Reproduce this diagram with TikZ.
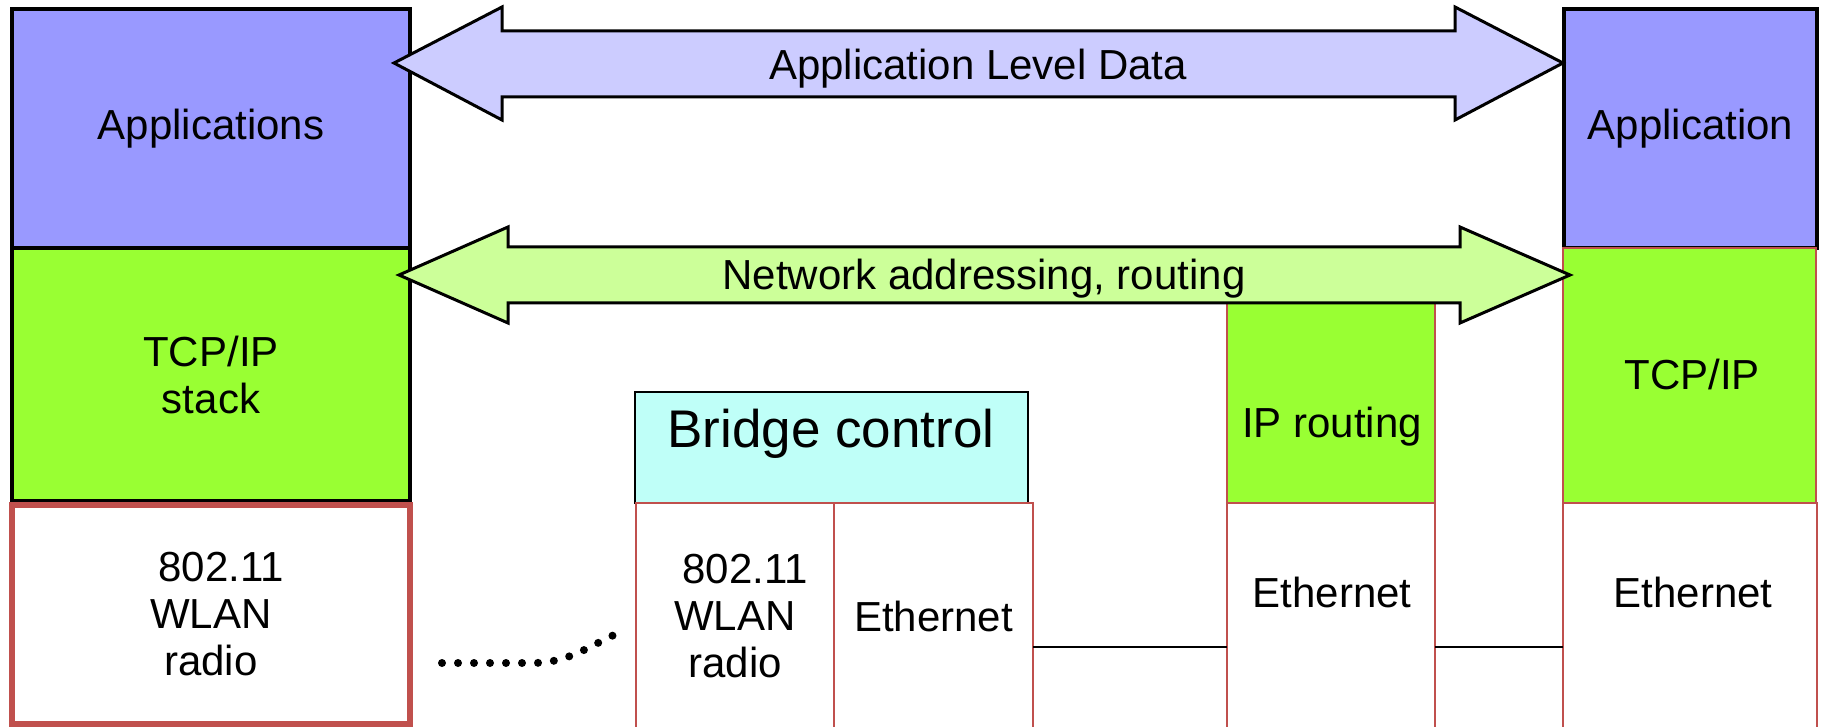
\documentclass[tikz,border=0pt]{standalone}
\usepackage{fontspec}
\setmainfont{Liberation Sans}
\usetikzlibrary{calc}
\definecolor{appblue}{HTML}{9999FF}
\definecolor{stackgreen}{HTML}{99FF33}
\definecolor{arrowblue}{HTML}{CCCCFF}
\definecolor{arrowgreen}{HTML}{CCFF99}
\definecolor{bridgecyan}{HTML}{BFFFF8}
\definecolor{borderred}{HTML}{C0504D}
\tikzset{
  layer/.style={rectangle,anchor=north west,inner sep=0pt,outer sep=0pt,
    align=center,font=\fontsize{42}{47}\selectfont},
  hostbox/.style={layer,draw=black,line width=4pt},
  redbox/.style={layer,draw=borderred,line width=2.5pt},
  lbl/.style={anchor=base,inner sep=0pt,font=\fontsize{42}{47}\selectfont},
  bigarrow/.style={draw=black,line width=3pt,line join=miter},
  link/.style={draw=black,line width=2.5pt},
  radiolink/.style={draw=black,line width=8pt,line cap=round,
    dash pattern=on 0pt off 16pt}
}

\begin{document}
\begin{tikzpicture}[x=1pt,y=-1pt]
  \useasboundingbox (0,0) rectangle (1823,727);
  % wireless host
  \node[hostbox,fill=appblue,minimum width=398pt,minimum height=239pt]
    (apps) at (12,9) {Applications};
  \node[hostbox,fill=stackgreen,minimum width=398pt,minimum height=253pt]
    (stack) at (12,248) {TCP/IP\\stack};
  \node[layer,draw=borderred,line width=6pt,minimum width=398pt,minimum height=219pt]
    (wlanA) at (12,505) {\hspace*{.48em}802.11\\WLAN\\radio};
  % bridge
  \node[layer,draw=black,line width=2.5pt,fill=bridgecyan,
    minimum width=393pt,minimum height=111pt] (bridge) at (635,392) {};
  \node[lbl,font=\fontsize{53}{60}\selectfont] (bridgeLbl) at (831,447) {Bridge control};
  \node[redbox,minimum width=198pt,minimum height=227pt]
    (wlanB) at (636,503) {\hspace*{.48em}802.11\\WLAN\\radio};
  \node[redbox,minimum width=199pt,minimum height=227pt]
    (brEth) at (834,503) {Ethernet};
  % router
  \node[redbox,fill=stackgreen,minimum width=208pt,minimum height=213pt]
    (ipRt) at (1227,290) {};
  \node[lbl] (ipRtLbl) at (1332,437) {IP routing};
  \node[redbox,minimum width=208pt,minimum height=227pt]
    (rtEth) at (1227,503) {};
  \node[lbl] (rtEthLbl) at (1332,607) {Ethernet};
  % wired host
  \node[hostbox,fill=appblue,minimum width=253pt,minimum height=239pt]
    (app) at (1564,9) {Application};
  \node[redbox,fill=stackgreen,minimum width=253pt,minimum height=255pt]
    (tcpip) at (1563,248) {};
  \node[lbl] (tcpipLbl) at (1692,389) {TCP/IP};
  \node[redbox,minimum width=254pt,minimum height=227pt]
    (hostEth) at (1563,503) {};
  \node[lbl] (hostEthLbl) at (1693,607) {Ethernet};
  % links
  \coordinate (wire) at (0,647);
  \draw[link] (brEth.east |- wire) -- (rtEth.west |- wire);
  \draw[link] (rtEth.east |- wire) -- (hostEth.west |- wire);
  \coordinate (dotA) at ($(wlanA.east)+(32,48.5)$);
  \coordinate (dotB) at ($(wlanB.west)+(-20,17.5)$);
  \draw[radiolink] (dotA) -- ++(90,0) .. controls +(35,0) and +(-30,14) .. (dotB);
  % peer arrows
  \draw[bigarrow,fill=arrowblue] (394,63) -- (502,7) -- (502,31) -- (1455,31)
    -- (1455,7) -- (1563,63) -- (1455,120) -- (1455,97) -- (502,97)
    -- (502,120) -- cycle;
  \node[lbl] (appData) at (978,80) {Application Level Data};
  \draw[bigarrow,fill=arrowgreen] (399,275) -- (508,227) -- (508,247) -- (1460,247)
    -- (1460,227) -- (1570,275) -- (1460,323) -- (1460,303) -- (508,303)
    -- (508,323) -- cycle;
  \node[lbl] (netData) at (984,290) {Network addressing, routing};
\end{tikzpicture}
\end{document}
